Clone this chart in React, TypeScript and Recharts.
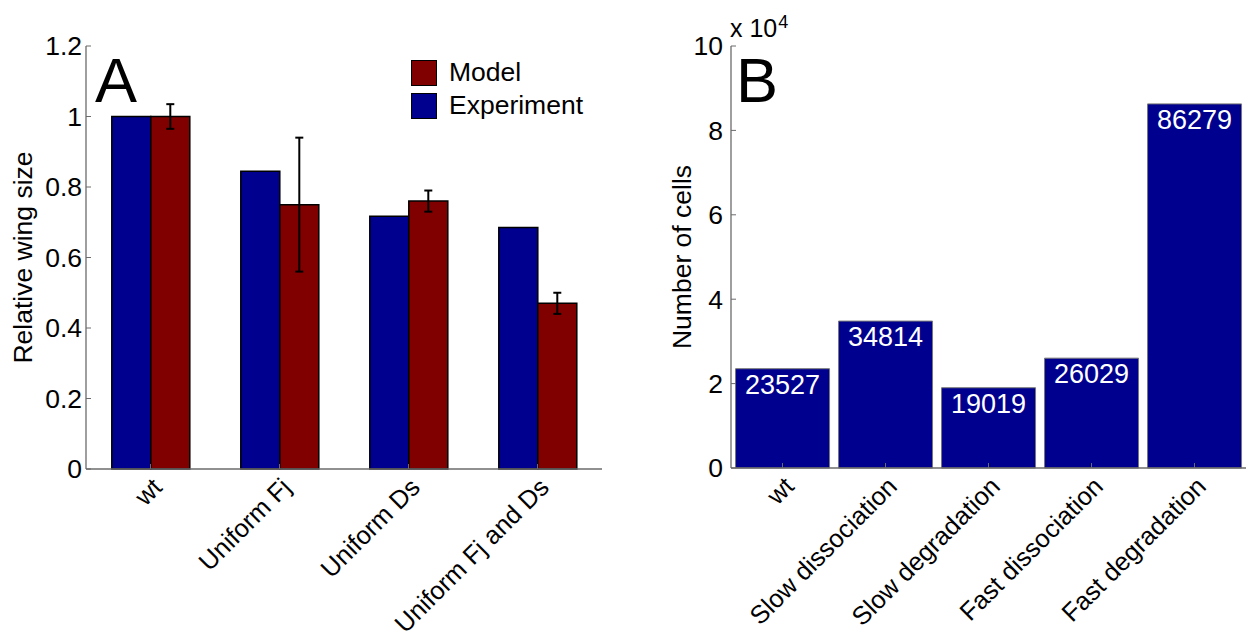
import React from 'react'
import { BarChart, Bar, XAxis, YAxis, ErrorBar, Legend, LabelList } from 'recharts'

// panel A
const categoriesA = ['wt', 'Uniform Fj', 'Uniform Ds', 'Uniform Fj and Ds']
const experimentA = [1.0, 0.845, 0.717, 0.685]
const modelA = [1.0, 0.75, 0.76, 0.47]
const modelErrA = [0.035, 0.19, 0.03, 0.03]
const yTicksA = [0, 0.2, 0.4, 0.6, 0.8, 1, 1.2]

// panel B
const categoriesB = ['wt', 'Slow dissociation', 'Slow degradation', 'Fast dissociation', 'Fast degradation']
const cellsB = [23527, 34814, 19019, 26029, 86279]
const yTicksB = [0, 20000, 40000, 60000, 80000, 100000]

const BLUE = '#00008f'
const RED = '#800000'
const FRAME = '#6b6b6b'
const FONT = '"Liberation Sans", Arial, Helvetica, sans-serif'
const FS = 26.5

const dataA = categoriesA.map((name, i) => ({
  name,
  experiment: experimentA[i],
  model: modelA[i],
  err: modelErrA[i],
}))

const dataB = categoriesB.map((name, i) => ({ name, cells: cellsB[i] }))

const RotatedTick = (props: any) => {
  const { x, y, payload } = props
  return (
    <g transform={`translate(${x},${y})`}>
      <text
        x={0}
        y={0}
        transform="translate(13,20) rotate(-45)"
        textAnchor="end"
        fill="#000"
        fontSize={25.5}
        fontFamily={FONT}
      >
        {payload.value}
      </text>
    </g>
  )
}

const NoLabel = () => <g />

const LegendBox = (props: any) => {
  const items = [...(props.payload || [])].sort((a: any, b: any) =>
    a.value === 'Model' ? -1 : b.value === 'Model' ? 1 : 0
  )
  return (
    <div style={{ fontFamily: FONT, fontSize: FS }}>
      {items.map((it: any) => (
        <div key={it.value} style={{ display: 'flex', alignItems: 'center', height: 33 }}>
          <span
            style={{
              display: 'inline-block',
              width: 24,
              height: 24,
              background: it.color,
              border: '1px solid #000',
              marginRight: 12,
            }}
          />
          <span style={{ color: '#000' }}>{it.value}</span>
        </div>
      ))}
    </div>
  )
}

const axisLine = { stroke: FRAME, strokeWidth: 1.3 }
const tickLine = { stroke: FRAME, strokeWidth: 1 }

const PanelLetter = ({ left, children }: { left: number; children: string }) => (
  <div
    style={{
      position: 'absolute',
      left,
      top: 49,
      fontFamily: FONT,
      fontSize: 63,
      lineHeight: '63px',
      color: '#000',
    }}
  >
    {children}
  </div>
)

export default function App() {
  return (
    <div style={{ position: 'absolute', left: 0, top: 0, width: 1252, height: 641, background: '#fff' }}>
      <div style={{ position: 'absolute', left: 0, top: 0 }}>
        <BarChart
          width={626}
          height={641}
          data={dataA}
          margin={{ top: 46, right: 24, bottom: 0, left: 0 }}
          barCategoryGap="20%"
          barGap={0}
        >
          <XAxis
            dataKey="name"
            height={172}
            axisLine={axisLine}
            tickLine={tickLine}
            tickSize={-5}
            tickMargin={5}
            tick={<RotatedTick />}
            interval={0}
          />
          <XAxis
            xAxisId="top"
            dataKey="name"
            orientation="top"
            height={0}
            axisLine={axisLine}
            tickLine={tickLine}
            tickSize={-5}
            tick={NoLabel}
            interval={0}
          />
          <YAxis
            width={86}
            domain={[0, 1.2]}
            ticks={yTicksA}
            axisLine={axisLine}
            tickLine={tickLine}
            tickSize={-5}
            tickMargin={9}
            tick={{ fill: '#000', fontSize: FS, fontFamily: FONT }}
            label={{
              value: 'Relative wing size',
              angle: -90,
              position: 'insideLeft',
              offset: 23,
              fill: '#000',
              fontSize: FS,
              fontFamily: FONT,
              style: { textAnchor: 'middle' },
            }}
          />
          <YAxis
            yAxisId="right"
            orientation="right"
            width={0}
            domain={[0, 1.2]}
            ticks={yTicksA}
            axisLine={axisLine}
            tickLine={tickLine}
            tickSize={-5}
            tick={NoLabel}
          />
          <Legend
            layout="vertical"
            verticalAlign="middle"
            align="center"
            wrapperStyle={{ left: 411, top: 56, width: 200 }}
            content={<LegendBox />}
          />
          <Bar dataKey="experiment" name="Experiment" fill={BLUE} stroke="#000" strokeWidth={1.5} isAnimationActive={false} />
          <Bar dataKey="model" name="Model" fill={RED} stroke="#000" strokeWidth={1.5} isAnimationActive={false}>
            <ErrorBar dataKey="err" width={4} strokeWidth={2} stroke="#000" direction="y" />
          </Bar>
        </BarChart>
        <PanelLetter left={95}>A</PanelLetter>
      </div>

      <div style={{ position: 'absolute', left: 626, top: 0 }}>
        <BarChart
          width={626}
          height={641}
          data={dataB}
          margin={{ top: 46, right: 6, bottom: 0, left: 0 }}
          barCategoryGap="4.4%"
        >
          <XAxis
            dataKey="name"
            height={173}
            axisLine={axisLine}
            tickLine={tickLine}
            tickSize={-5}
            tickMargin={5}
            tick={<RotatedTick />}
            interval={0}
          />
          <XAxis
            xAxisId="top"
            dataKey="name"
            orientation="top"
            height={0}
            axisLine={axisLine}
            tickLine={tickLine}
            tickSize={-5}
            tick={NoLabel}
            interval={0}
          />
          <YAxis
            width={105}
            domain={[0, 100000]}
            ticks={yTicksB}
            axisLine={axisLine}
            tickLine={tickLine}
            tickSize={-5}
            tickMargin={13}
            tickFormatter={(v: number) => String(v / 10000)}
            tick={{ fill: '#000', fontSize: FS, fontFamily: FONT }}
            label={{
              value: 'Number of cells',
              angle: -90,
              position: 'insideLeft',
              offset: 56,
              fill: '#000',
              fontSize: FS,
              fontFamily: FONT,
              style: { textAnchor: 'middle' },
            }}
          />
          <YAxis
            yAxisId="right"
            orientation="right"
            width={0}
            domain={[0, 100000]}
            ticks={yTicksB}
            axisLine={axisLine}
            tickLine={tickLine}
            tickSize={-5}
            tick={NoLabel}
          />
          <Bar dataKey="cells" fill={BLUE} stroke="#777" strokeWidth={1} isAnimationActive={false}>
            <LabelList
              dataKey="cells"
              position="insideTop"
              offset={6}
              fill="#fff"
              fontSize={27}
              fontFamily={FONT}
            />
          </Bar>
        </BarChart>
        <PanelLetter left={110}>B</PanelLetter>
        <div
          style={{
            position: 'absolute',
            left: 104,
            top: 16,
            fontFamily: FONT,
            fontSize: 25,
            lineHeight: '25px',
            color: '#000',
            whiteSpace: 'nowrap',
          }}
        >
          x 10<sup style={{ fontSize: 18, verticalAlign: 'top', position: 'relative', top: -6, marginLeft: 1 }}>4</sup>
        </div>
      </div>
    </div>
  )
}
